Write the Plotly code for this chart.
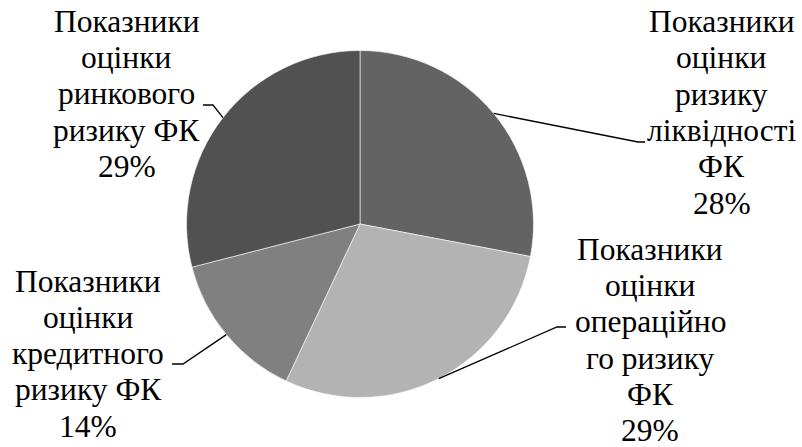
import math
import plotly.graph_objects as go

# Risk-indicator groups and their shares (%)
categories = [
    "Показники оцінки ризику ліквідності ФК",
    "Показники оцінки операційного ризику ФК",
    "Показники оцінки кредитного ризику ФК",
    "Показники оцінки ринкового ризику ФК",
]
label_lines = [
    ["Показники", "оцінки", "ризику", "ліквідності", "ФК"],
    ["Показники", "оцінки", "операційно", "го ризику", "ФК"],
    ["Показники", "оцінки", "кредитного", "ризику ФК"],
    ["Показники", "оцінки", "ринкового", "ризику ФК"],
]
shares = [28, 29, 14, 29]
colors = ["#636363", "#b3b3b3", "#808080", "#515151"]

W, H = 802, 447
CX, CY, R = 360.0, 224.0, 173.5

FONT = "Liberation Serif"
FSIZE = 31.5
LINE_STEP = 36.3          # baseline-to-baseline distance, px
BASE_SHIFT = 0.3375 * FSIZE  # baseline -> text box middle

# label block: centre x and first baseline y (px)
label_pos = [(721.5, 32.3), (650, 260), (88.3, 291.7), (126.7, 32)]
# leader elbow and end points (px)
elbows = [((638, 142), (645, 142)),
          ((557, 327), (566, 327)),
          ((183, 364), (172, 364)),
          ((213, 105), (203, 105))]

fig = go.Figure(go.Pie(
    labels=categories,
    values=shares,
    sort=False,
    direction="clockwise",
    rotation=0,
    textinfo="none",
    hoverinfo="label+percent",
    marker=dict(colors=colors, line=dict(color="#ffffff", width=0.6)),
    domain=dict(x=[(CX - R) / W, (CX + R) / W],
                y=[(H - CY - R) / H, (H - CY + R) / H]),
    showlegend=False,
))

def px(x, y):
    return x / W, 1 - y / H

total = sum(shares)
cum = 0
shapes, annotations = [], []
for i, v in enumerate(shares):
    mid = (cum + v / 2) / total * 2 * math.pi
    cum += v
    sx = CX + R * math.sin(mid)
    sy = CY - R * math.cos(mid)
    (bx, by), (ex, ey) = elbows[i]
    p0, p1, p2 = px(sx, sy), px(bx, by), px(ex, ey)
    shapes.append(dict(
        type="path", xref="paper", yref="paper",
        path=f"M {p0[0]} {p0[1]} L {p1[0]} {p1[1]} L {p2[0]} {p2[1]}",
        line=dict(color="#000000", width=1.3),
    ))
    lx, ly0 = label_pos[i]
    for k, line in enumerate(label_lines[i] + [f"{v}%"]):
        ax, ay = px(lx, ly0 + k * LINE_STEP - BASE_SHIFT)
        annotations.append(dict(
            x=ax, y=ay, xref="paper", yref="paper",
            xanchor="center", yanchor="middle", showarrow=False,
            text=line,
            font=dict(family=FONT, size=FSIZE, color="#000000"),
        ))

fig.update_layout(
    width=W, height=H,
    margin=dict(l=0, r=0, t=0, b=0),
    paper_bgcolor="#ffffff",
    plot_bgcolor="#ffffff",
    font=dict(family=FONT),
    shapes=shapes,
    annotations=annotations,
)

fig.write_html("out.html")
